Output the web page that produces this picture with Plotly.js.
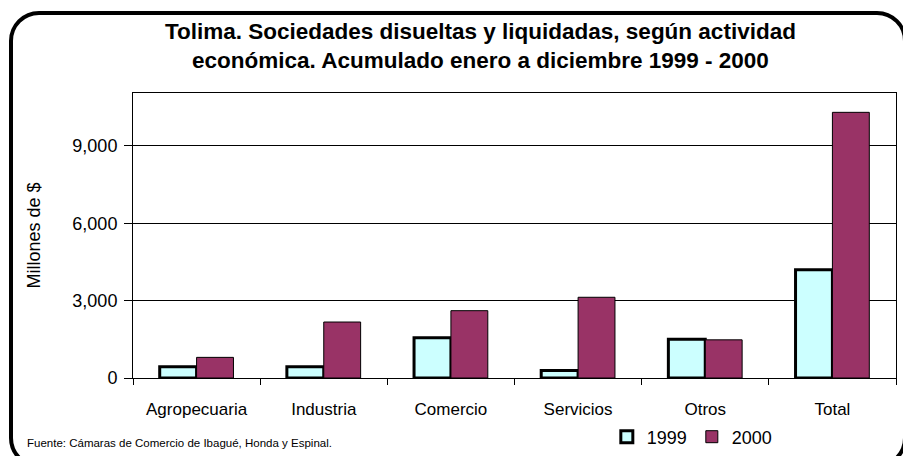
<!DOCTYPE html>
<html>
<head>
<meta charset="utf-8">
<script src="https://cdn.plot.ly/plotly-3.0.1.min.js"></script>
<style>
  html, body { margin: 0; padding: 0; background: #fff; overflow: hidden; }
  #wrap { position: relative; width: 903px; height: 456px; overflow: hidden; }
  #chart { position: absolute; left: 0; top: 0; width: 903px; height: 456px; }
  #frame { position: absolute; left: 9px; top: 11px; width: 898px; height: 457px;
           border: 4px solid #000; border-radius: 30px; box-sizing: border-box; pointer-events: none; }
</style>
</head>
<body>
<div id="wrap">
  <div id="chart"></div>
  <div id="frame"></div>
</div>
<script>
const categories = ["Agropecuaria", "Industria", "Comercio", "Servicios", "Otros", "Total"];
const values1999 = [440, 440, 1560, 290, 1500, 4200];
const values2000 = [800, 2170, 2610, 3130, 1480, 10300];
const seriesNames = ["1999", "2000"];
const yTicks = [0, 3000, 6000, 9000];

const font = "Arial, 'Liberation Sans', sans-serif";

const traces = [
  { type: "bar", name: seriesNames[0], x: categories, y: values1999,
    marker: { color: "#CCFFFF", line: { color: "#000", width: 3 } }, hoverinfo: "skip" },
  { type: "bar", name: seriesNames[1], x: categories, y: values2000,
    marker: { color: "#993366", line: { color: "#000", width: 1 } }, hoverinfo: "skip" }
];

const layout = {
  width: 903, height: 456,
  margin: { l: 133, r: 7, t: 93, b: 78, autoexpand: false },
  paper_bgcolor: "#fff", plot_bgcolor: "#fff",
  font: { family: font, color: "#000", size: 15 },
  barmode: "group", bargap: 0.42, bargroupgap: 0,
  showlegend: true,
  title: {
    text: "<b>Tolima. Sociedades disueltas y liquidadas, según actividad<br>económica. Acumulado enero a diciembre 1999 - 2000</b>",
    font: { family: font, size: 22.5, color: "#000" },
    x: 0.532, xanchor: "center", y: 0.914, yanchor: "middle"
  },
  xaxis: {
    type: "category", showline: true, linecolor: "#000", linewidth: 1, mirror: true,
    ticks: "outside", tickson: "boundaries", ticklen: 6, tickcolor: "#000",
    ticklabelstandoff: 16,
    tickfont: { family: font, size: 17, color: "#000" }, showgrid: false
  },
  yaxis: {
    range: [0, 11050], tickvals: yTicks, tickformat: ",d",
    showline: true, linecolor: "#000", linewidth: 1, mirror: true,
    ticks: "outside", ticklen: 8, tickcolor: "#000", ticklabelstandoff: 3,
    showgrid: true, gridcolor: "#000", gridwidth: 1, zeroline: false,
    tickfont: { family: font, size: 18, color: "#000" }
  },
  legend: {
    orientation: "h", x: 0.621, xanchor: "left", y: -0.207, yanchor: "middle",
    font: { family: font, size: 18, color: "#000" }, itemwidth: 30,
    entrywidth: 40, entrywidthmode: "pixels",
    bgcolor: "rgba(0,0,0,0)"
  },
  annotations: [
    { text: "Millones de $", xref: "paper", yref: "paper", x: -0.131, y: 0.5,
      xanchor: "center", yanchor: "middle", textangle: -90, showarrow: false,
      font: { family: font, size: 18, color: "#000" } },
    { text: "Fuente: Cámaras de Comercio de Ibagué, Honda y Espinal.", xref: "paper", yref: "paper",
      x: -0.141, y: -0.228, xanchor: "left", yanchor: "middle", showarrow: false,
      font: { family: font, size: 11.5, color: "#000" } }
  ]
};

Plotly.newPlot("chart", traces, layout, { staticPlot: true, displayModeBar: false });
</script>
</body>
</html>
